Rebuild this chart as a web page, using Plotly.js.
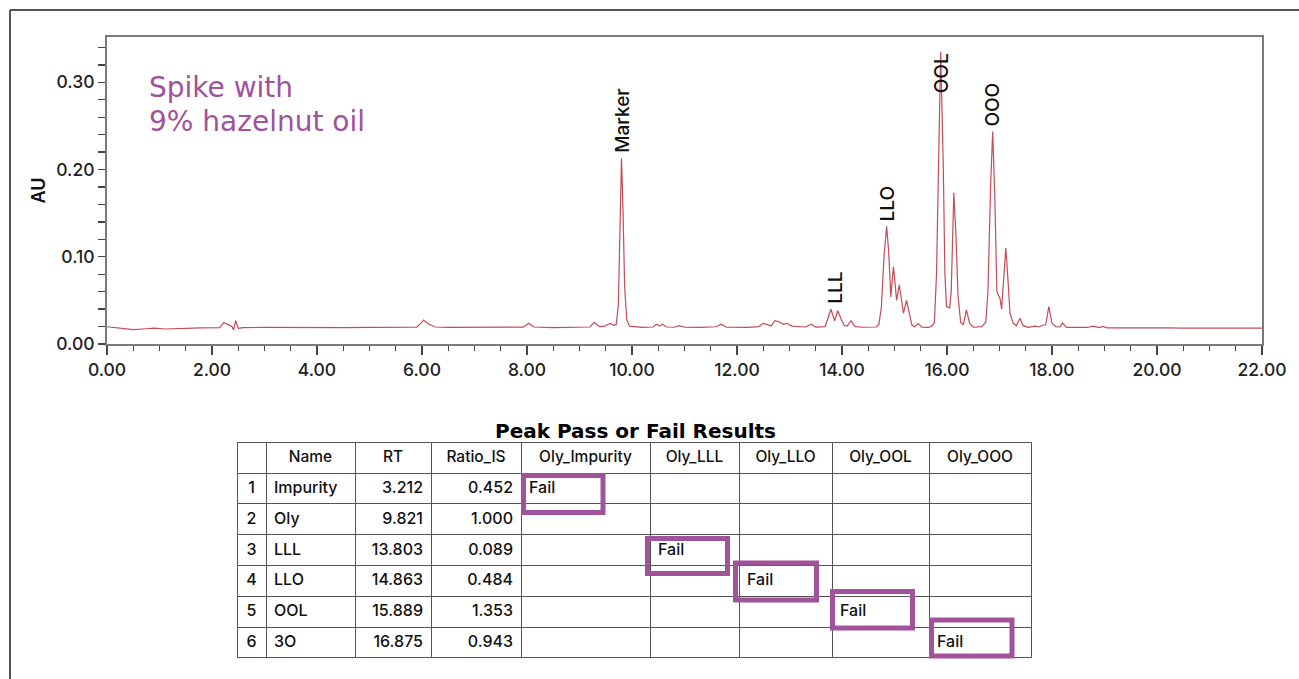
<!DOCTYPE html>
<html>
<head>
<meta charset="utf-8">
<script src="https://cdn.plot.ly/plotly-3.0.1.min.js"></script>
<style>
html,body{margin:0;padding:0;background:#fff;}
#chart{width:1299px;height:679px;}
</style>
</head>
<body>
<div id="chart"></div>
<script>
// ---- Chromatogram ----
var timeMin = [
  0.00,0.25,0.50,0.75,0.90,1.10,1.40,1.80,2.15,2.22,2.30,2.38,2.41,2.45,2.50,2.60,
  3.00,3.50,4.00,4.50,5.00,5.50,5.90,5.98,6.03,6.12,6.25,6.50,7.00,7.50,7.93,8.03,8.13,
  8.50,9.00,9.20,9.28,9.38,9.48,9.58,9.66,9.70,9.74,9.77,9.80,9.83,9.86,9.90,9.95,
  10.20,10.40,10.47,10.53,10.58,10.66,10.80,10.90,11.00,11.30,11.60,11.70,11.80,12.20,
  12.42,12.50,12.58,12.65,12.72,12.80,12.88,12.95,13.05,13.30,13.42,13.50,13.68,13.74,
  13.79,13.86,13.92,13.98,14.04,14.10,14.17,14.25,14.40,14.65,14.70,14.75,14.80,14.85,
  14.89,14.93,14.98,15.01,15.04,15.09,15.13,15.17,15.23,15.28,15.33,15.38,15.45,15.52,
  15.65,15.72,15.76,15.80,15.84,15.88,15.93,15.96,15.99,16.05,16.08,16.10,16.13,16.17,
  16.21,16.26,16.31,16.37,16.43,16.50,16.66,16.74,16.78,16.83,16.87,16.91,16.95,16.98,
  17.01,17.04,17.08,17.12,17.16,17.20,17.26,17.32,17.39,17.45,17.55,17.68,17.75,17.82,
  17.88,17.94,18.00,18.07,18.15,18.20,18.28,18.50,18.65,18.70,18.78,18.90,18.97,19.05,
  19.50,20.00,20.10,20.20,20.50,21.00,21.50,22.00
];
var absorbanceAU = [
  0.0198,0.0185,0.0165,0.0175,0.0182,0.0172,0.0180,0.0185,0.0188,0.0245,0.0225,0.0200,0.0160,0.0267,0.0180,0.0188,
  0.0190,0.0187,0.0190,0.0188,0.0190,0.0188,0.0192,0.0240,0.0275,0.0230,0.0195,0.0190,0.0188,0.0187,0.0193,0.0237,0.0195,
  0.0188,0.0188,0.0195,0.0249,0.0200,0.0205,0.0237,0.0215,0.0225,0.0450,0.1200,0.2130,0.1500,0.0650,0.0280,0.0205,
  0.0190,0.0195,0.0226,0.0205,0.0226,0.0195,0.0192,0.0210,0.0192,0.0190,0.0198,0.0226,0.0192,0.0190,
  0.0200,0.0237,0.0222,0.0205,0.0267,0.0255,0.0225,0.0237,0.0205,0.0195,0.0226,0.0193,0.0200,0.0300,
  0.0398,0.0267,0.0382,0.0290,0.0215,0.0205,0.0267,0.0200,0.0192,0.0195,0.0220,0.0420,0.1000,0.1350,
  0.1050,0.0540,0.0887,0.0700,0.0500,0.0677,0.0520,0.0355,0.0500,0.0360,0.0220,0.0195,0.0235,0.0192,
  0.0190,0.0210,0.0250,0.0800,0.2200,0.3350,0.2000,0.0800,0.0430,0.0415,0.0600,0.1100,0.1730,0.1250,
  0.0550,0.0250,0.0220,0.0390,0.0240,0.0192,0.0200,0.0250,0.0600,0.1800,0.2435,0.1700,0.0600,0.0560,
  0.0520,0.0400,0.0750,0.1100,0.0750,0.0350,0.0240,0.0210,0.0295,0.0210,0.0190,0.0205,0.0195,0.0215,
  0.0220,0.0428,0.0240,0.0200,0.0195,0.0240,0.0190,0.0185,0.0190,0.0192,0.0205,0.0188,0.0202,0.0185,
  0.0188,0.0185,0.0190,0.0186,0.0183,0.0183,0.0182,0.0182
];

// ---- Peak labels ----
var peakNames = ['Marker','LLL','LLO','OOL','OOO'];
var peakTimes = [9.82, 13.86, 14.86, 15.889, 16.875];
var peakHeights = [0.213, 0.040, 0.135, 0.335, 0.2435];

// ---- Axis ticks ----
var xTickVals = [0,2,4,6,8,10,12,14,16,18,20,22];
var xTickText = ['0.00','2.00','4.00','6.00','8.00','10.00','12.00','14.00','16.00','18.00','20.00','22.00'];
var yTickVals = [0,0.1,0.2,0.3];
var yTickText = ['0.00','0.10','0.20','0.30'];

// ---- Results table ----
var tableTitle = 'Peak Pass or Fail Results';
var tableHeader = ['', 'Name', 'RT', 'Ratio_IS', 'Oly_Impurity', 'Oly_LLL', 'Oly_LLO', 'Oly_OOL', 'Oly_OOO'];
var rowIndex = ['1','2','3','4','5','6'];
var rowName = ['Impurity','Oly','LLL','LLO','OOL','3O'];
var rowRT = ['3.212','9.821','13.803','14.863','15.889','16.875'];
var rowRatioIS = ['0.452','1.000','0.089','0.484','1.353','0.943'];
var olyImpurity = ['Fail','','','','',''];
var olyLLL = ['','','Fail','','',''];
var olyLLO = ['','','','Fail','',''];
var olyOOL = ['','','','','Fail',''];
var olyOOO = ['','','','','','Fail'];

// ---- Layout helpers (page pixels -> paper fraction) ----
var W = 1299, H = 679;
function px(x){ return x / W; }
function py(y){ return 1 - y / H; }

var purple = '#a0529a';
var frame = '#7a7a7a';
var FONT = 'Inter, "Liberation Sans", Arial, sans-serif';

var traceLine = {
  type: 'scatter', mode: 'lines',
  x: timeMin, y: absorbanceAU,
  line: {color: '#c24c58', width: 1.2},
  xaxis: 'x', yaxis: 'y', hoverinfo: 'skip', showlegend: false
};

var failCols = [olyImpurity, olyLLL, olyLLO, olyOOL, olyOOO];
var traceTable = {
  type: 'table',
  domain: {x: [px(237), px(1031)], y: [py(658), py(442)]},
  columnwidth: [29, 89, 76, 90, 129, 89, 93, 97, 102],
  header: {
    values: tableHeader,
    align: 'center',
    height: 31,
    line: {color: '#555', width: 1},
    fill: {color: 'rgba(0,0,0,0)'},
    font: {family: FONT, size: 15.5, color: '#111', weight: 500}
  },
  cells: {
    values: [rowIndex, rowName, rowRT, rowRatioIS].concat(failCols),
    align: ['center','left','right','right','left','left','left','left','left'],
    height: 30.8,
    line: {color: '#555', width: 1},
    fill: {color: 'rgba(0,0,0,0)'},
    font: {family: FONT, size: 16, color: '#111', weight: 500}
  }
};

var annotations = [];
var labelY = [0.213, 0.040, 0.135, 0.282, 0.2435];
for (var i = 0; i < peakNames.length; i++) {
  annotations.push({
    x: peakTimes[i], y: labelY[i], xref: 'x', yref: 'y',
    text: peakNames[i], textangle: -90, showarrow: false,
    xanchor: 'center', yanchor: 'bottom', yshift: 3,
    font: {family: FONT, size: 19, color: '#111', weight: 500}
  });
}
annotations.push({
  x: px(147), y: py(88), xref: 'paper', yref: 'paper', xanchor: 'left', yanchor: 'middle',
  text: 'Spike with', showarrow: false,
  font: {family: 'DejaVu Sans', size: 28, color: purple}
});
annotations.push({
  x: px(147), y: py(121), xref: 'paper', yref: 'paper', xanchor: 'left', yanchor: 'middle',
  text: '9% hazelnut oil', showarrow: false,
  font: {family: 'DejaVu Sans', size: 28, color: purple}
});
annotations.push({
  x: px(635), y: py(431), xref: 'paper', yref: 'paper', xanchor: 'center', yanchor: 'middle',
  text: '<b>' + tableTitle + '</b>', showarrow: false,
  font: {family: 'DejaVu Sans', size: 20, color: '#000'}
});

function box(x0, y0, x1, y1) {
  return {type: 'rect', xref: 'paper', yref: 'paper', layer: 'above',
    x0: px(x0), x1: px(x1), y0: py(y0), y1: py(y1),
    line: {color: purple, width: 5}, fillcolor: 'rgba(0,0,0,0)'};
}

var shapes = [
  {type: 'line', xref: 'paper', yref: 'paper', x0: px(10), x1: px(1299), y0: py(10), y1: py(10),
   line: {color: '#555', width: 2}},
  {type: 'line', xref: 'paper', yref: 'paper', x0: px(10), x1: px(10), y0: py(10), y1: py(679),
   line: {color: '#555', width: 2}},
  box(523.5, 475.5, 603, 512.5),
  box(647.5, 538.5, 727.5, 573.5),
  box(735.5, 563, 816.5, 600),
  box(832.5, 591.5, 912.5, 628),
  box(931.5, 620, 1012, 656)
];

var layout = {
  width: W, height: H,
  margin: {l: 0, r: 0, t: 0, b: 0},
  paper_bgcolor: '#fff', plot_bgcolor: '#fff',
  showlegend: false,
  xaxis: {
    domain: [px(107), px(1262)],
    range: [0, 22], tickvals: xTickVals, ticktext: xTickText,
    showgrid: false, zeroline: false,
    showline: true, linecolor: frame, linewidth: 2, mirror: true,
    ticks: 'outside', ticklen: 9, tickwidth: 1.3, tickcolor: '#444',
    minor: {dtick: 0.5, ticks: 'outside', ticklen: 5, tickwidth: 1.3, tickcolor: '#444', showgrid: false},
    tickfont: {family: FONT, size: 17.5, color: '#222', weight: 500},
    automargin: false, fixedrange: true
  },
  yaxis: {
    domain: [py(344), py(37)],
    range: [0, 0.352], tickvals: yTickVals, ticktext: yTickText,
    showgrid: false, zeroline: false,
    showline: true, linecolor: frame, linewidth: 2, mirror: true,
    ticks: 'outside', ticklen: 7, tickwidth: 1.3, tickcolor: '#444',
    minor: {dtick: 0.02, ticks: 'outside', ticklen: 7, tickwidth: 1.3, tickcolor: '#444', showgrid: false},
    tickfont: {family: FONT, size: 17.5, color: '#222', weight: 500},
    title: {text: 'AU', font: {family: FONT, size: 18, color: '#111', weight: 600}, standoff: 6},
    automargin: false, fixedrange: true
  },
  annotations: annotations,
  shapes: shapes
};

Plotly.newPlot('chart', [traceLine, traceTable], layout, {staticPlot: true, displayModeBar: false});
</script>
</body>
</html>
